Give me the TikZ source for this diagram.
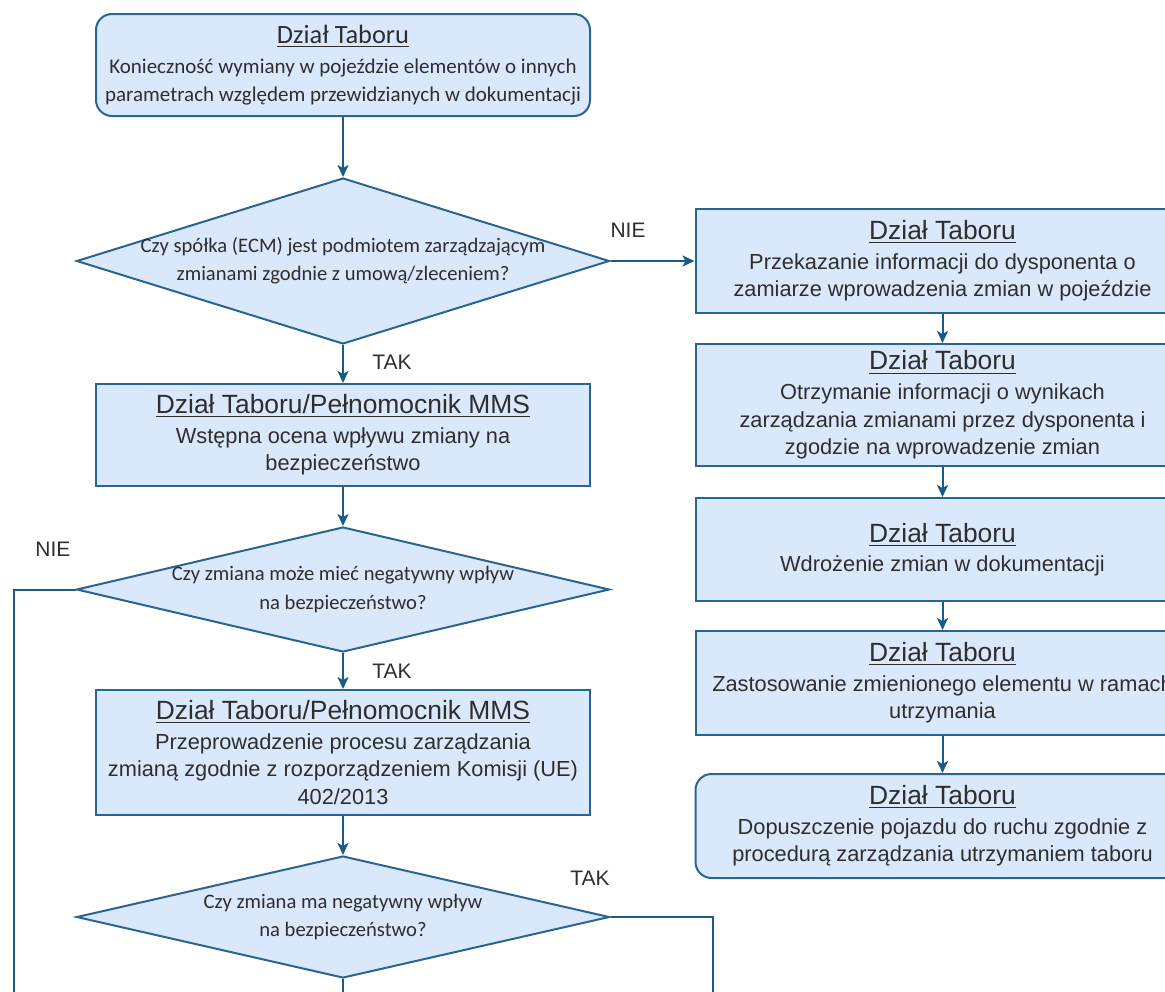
\documentclass[tikz,border=0pt]{standalone}
\usepackage{fontspec}
\setmainfont{Liberation Sans}
\newfontfamily\calibri{Carlito}
\usepackage{xcolor}
\usetikzlibrary{arrows.meta,positioning,shapes.geometric}

\definecolor{ramka}{HTML}{2A6592}
\definecolor{linia}{HTML}{1B5A86}
\definecolor{wypelnienie}{HTML}{DAE8FC}
\definecolor{tekst}{HTML}{2E2E2E}
\newcommand{\naglowek}[1]{{\fontsize{13.2}{15}\selectfont\underline{#1}}}

\begin{document}
\begin{tikzpicture}[
  x=0.5pt, y=-0.5pt,
  box/.style={draw=ramka, fill=wypelnienie, line width=1pt, minimum width=247pt,
    inner sep=2pt, align=center, text=tekst, font=\fontsize{10.9}{13.8}\selectfont},
  startbox/.style={box, rounded corners=8pt},
  decision/.style={diamond, draw=ramka, fill=wypelnienie, line width=1pt,
    minimum width=266.5pt, inner xsep=-40pt, inner ysep=-14pt, aspect=3.2,
    align=center, text=tekst, font=\calibri\fontsize{10.3}{14.2}\selectfont},
  arr/.style={-{Stealth[length=6pt, width=5.5pt, inset=1.5pt]}, draw=linia, line width=1pt},
  lin/.style={draw=linia, line width=1pt},
  lbl/.style={inner sep=0pt, text=tekst, font=\fontsize{10.5}{12}\selectfont}
]
  \path[use as bounding box, clip] (0,0) rectangle (1165,991);

  % lewa kolumna
  \node[startbox, minimum height=51pt, font=\calibri\fontsize{10.5}{14}\selectfont] (start) at (343,65)
    {\naglowek{Dział Taboru}\\[1pt] Konieczność wymiany w pojeździe elementów o innych\\ parametrach względem przewidzianych w dokumentacji};
  \node[decision, minimum height=83pt, below=30pt of start] (ecm)
    {Czy spółka (ECM) jest podmiotem zarządzającym\\ zmianami zgodnie z umową/zleceniem?};
  \node[box, minimum height=51pt, below=19pt of ecm] (ocena)
    {\naglowek{Dział Taboru/Pełnomocnik MMS}\\[1pt] Wstępna ocena wpływu zmiany na\\ bezpieczeństwo};
  \node[decision, minimum height=62.5pt, below=19.5pt of ocena] (mozemiec)
    {Czy zmiana może mieć negatywny wpływ\\ na bezpieczeństwo?};
  \node[box, minimum height=62.5pt, below=18pt of mozemiec] (proces)
    {\naglowek{Dział Taboru/Pełnomocnik MMS}\\[1pt] Przeprowadzenie procesu zarządzania\\ zmianą zgodnie z rozporządzeniem Komisji (UE)\\ 402/2013};
  \node[decision, minimum height=61pt, below=19.5pt of proces] (ma)
    {Czy zmiana ma negatywny wpływ\\ na bezpieczeństwo?};

  % prawa kolumna
  \node[box, minimum height=52pt, right=42pt of ecm] (przekaz)
    {\naglowek{Dział Taboru}\\[1pt] Przekazanie informacji do dysponenta o\\ zamiarze wprowadzenia zmian w pojeździe};
  \node[box, minimum height=61pt, below=14.5pt of przekaz] (wyniki)
    {\naglowek{Dział Taboru}\\[1pt] Otrzymanie informacji o wynikach\\ zarządzania zmianami przez dysponenta i\\ zgodzie na wprowadzenie zmian};
  \node[box, minimum height=51.5pt, below=15pt of wyniki] (wdrozenie)
    {\naglowek{Dział Taboru}\\[1pt] Wdrożenie zmian w dokumentacji};
  \node[box, minimum height=52pt, below=14pt of wdrozenie] (zastos)
    {\naglowek{Dział Taboru}\\[1pt] Zastosowanie zmienionego elementu w ramach\\ utrzymania};
  \node[startbox, minimum height=52pt, below=18.5pt of zastos] (dopusz)
    {\naglowek{Dział Taboru}\\[1pt] Dopuszczenie pojazdu do ruchu zgodnie z\\ procedurą zarządzania utrzymaniem taboru};

  % etykiety
  \node[lbl] (nie1) at (628,230) {NIE};
  \node[lbl] (tak1) at (392,362) {TAK};
  \node[lbl] (nie2) at (53,549) {NIE};
  \node[lbl] (tak2) at (392,671) {TAK};
  \node[lbl] (tak3) at (590,878) {TAK};
  \node[lbl] (nie3) at (392,1001) {NIE};

  \coordinate (dolL) at (14,1010);
  \coordinate (dolP) at (713,1010);
  \coordinate (dolS) at (343,1010);

  \draw[arr] (start) -- (ecm);
  \draw[arr] (ecm) -- (ocena);
  \draw[arr] (ecm.east) -- (przekaz.west);
  \draw[arr] (ocena) -- (mozemiec);
  \draw[arr] (mozemiec) -- (proces);
  \draw[arr] (proces) -- (ma);
  \draw[lin] (mozemiec.west) -| (dolL);
  \draw[lin] (ma.east) -| (dolP);
  \draw[lin] (ma.south) -- (dolS);
  \draw[arr] (przekaz) -- (wyniki);
  \draw[arr] (wyniki) -- (wdrozenie);
  \draw[arr] (wdrozenie) -- (zastos);
  \draw[arr] (zastos) -- (dopusz);
\end{tikzpicture}
\end{document}
